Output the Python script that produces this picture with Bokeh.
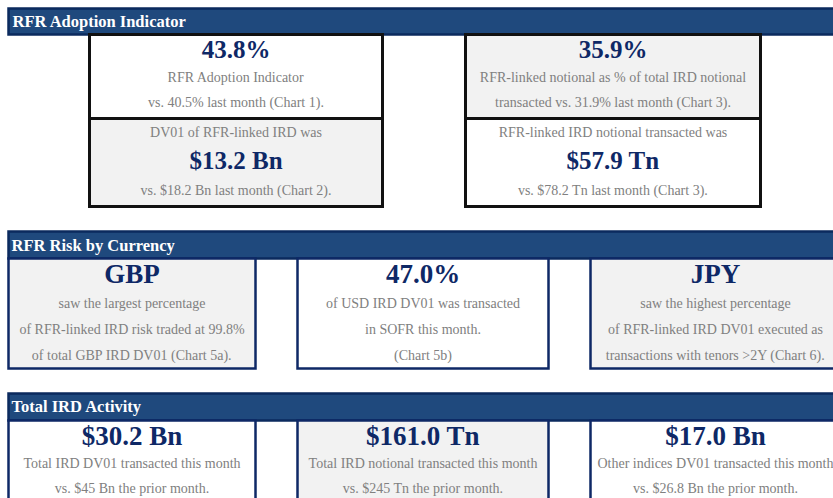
from bokeh.plotting import figure
from bokeh.models import Range1d
from bokeh.embed import file_html
from bokeh.resources import INLINE
from bokeh.core.properties import value

# ---------------- data (text content of the dashboard) ----------------
section_titles = ["RFR Adoption Indicator", "RFR Risk by Currency", "Total IRD Activity"]

adoption_values = ["43.8%", "35.9%"]
adoption_line1 = ["RFR Adoption Indicator", "RFR-linked notional as % of total IRD notional"]
adoption_line2 = ["vs. 40.5% last month (Chart 1).", "transacted vs. 31.9% last month (Chart 3)."]

volume_intro = ["DV01 of RFR-linked IRD was", "RFR-linked IRD notional transacted was"]
volume_values = ["$13.2 Bn", "$57.9 Tn"]
volume_prev = ["vs. $18.2 Bn last month (Chart 2).", "vs. $78.2 Tn last month (Chart 3)."]

currency_values = ["GBP", "47.0%", "JPY"]
currency_line1 = ["saw the largest percentage", "of USD IRD DV01 was transacted", "saw the highest percentage"]
currency_line2 = ["of RFR-linked IRD risk traded at 99.8%", "in SOFR this month.", "of RFR-linked IRD DV01 executed as"]
currency_line3 = ["of total GBP IRD DV01 (Chart 5a).", "(Chart 5b)", "transactions with tenors >2Y (Chart 6)."]

activity_values = ["$30.2 Bn", "$161.0 Tn", "$17.0 Bn"]
activity_line1 = ["Total IRD DV01 transacted this month", "Total IRD notional transacted this month",
                  "Other indices DV01 transacted this month"]
activity_line2 = ["vs. $45 Bn the prior month.", "vs. $245 Tn the prior month.", "vs. $26.8 Bn the prior month."]

# ---------------- layout / style ----------------
HEAD_FILL = "#1F497D"
HEAD_LINE = "#0B2A5E"
NAVY = "#0E2866"
GREY_TXT = "#808080"
GREY_FILL = "#F2F2F2"
FONT = value("Liberation Serif")

W, H = 833, 498
p = figure(width=W, height=H, x_range=Range1d(0, W), y_range=Range1d(H, 0),
           output_backend="svg", toolbar_location=None, x_axis_type=None, y_axis_type=None,
           min_border=0, min_border_left=0, min_border_right=0, min_border_top=0, min_border_bottom=0)
p.grid.visible = False
p.outline_line_color = None
p.background_fill_color = "white"
p.border_fill_color = "white"


def mid(baselines, size):
    # convert a desired alphabetic baseline to the "middle" anchor of the text box
    return [b - 0.34 * size for b in baselines]


SMALL = 14
BIG1 = 25
BIG2 = 27
HEAD = 16.5

big = dict(text_font=FONT, text_font_style="bold", text_color=NAVY,
           text_baseline="middle", text_align="center")
small = dict(text_font=FONT, text_font_size=f"{SMALL}px", text_color=GREY_TXT,
             text_baseline="middle", text_align="center")

# section headers
head_top = [8, 231, 393]
head_bot = [34, 258, 420]
p.quad(left=[8] * 3, right=[845] * 3, top=head_top, bottom=head_bot,
       fill_color=HEAD_FILL, line_color=HEAD_LINE, line_width=2.5, line_join="miter")
p.text(x=[12, 11, 11], y=mid([27, 251, 412], HEAD), text=section_titles, text_font=FONT,
       text_font_style="bold", text_font_size=f"{HEAD}px", text_color="white",
       text_baseline="middle", text_align="left")

# ---- section 1: two black boxes, each split in two ----
b1_left = [89, 465]
b1_right = [382, 760]
b1_cx = [(a + b) / 2 for a, b in zip(b1_left, b1_right)]
p.quad(left=b1_left, right=b1_right, top=[34, 34], bottom=[118, 118],
       fill_color=["white", GREY_FILL], line_color="#111111", line_width=3, line_join="miter")
p.quad(left=b1_left, right=b1_right, top=[118, 118], bottom=[206, 206],
       fill_color=[GREY_FILL, "white"], line_color="#111111", line_width=3, line_join="miter")

p.text(x=b1_cx, y=mid([57, 57], BIG1), text=adoption_values, text_font_size=f"{BIG1}px", **big)
p.text(x=b1_cx, y=mid([82, 82], SMALL), text=adoption_line1, **small)
p.text(x=b1_cx, y=mid([107, 107], SMALL), text=adoption_line2, **small)
p.text(x=b1_cx, y=mid([137, 137], SMALL), text=volume_intro, **small)
p.text(x=b1_cx, y=mid([168, 168], BIG1), text=volume_values, text_font_size=f"{BIG1}px", **big)
p.text(x=b1_cx, y=mid([195, 195], SMALL), text=volume_prev, **small)

# ---- sections 2 & 3: three navy boxes ----
b_left = [8, 297, 590]
b_right = [255, 548, 845]
b_cx = [131.5, 422.5, 715]

p.quad(left=b_left, right=b_right, top=[258] * 3, bottom=[368] * 3,
       fill_color=[GREY_FILL, "white", GREY_FILL], line_color=NAVY, line_width=2.5, line_join="miter")
p.text(x=b_cx, y=mid([283] * 3, BIG2), text=currency_values, text_font_size=f"{BIG2}px", **big)
p.text(x=b_cx, y=mid([308] * 3, SMALL), text=currency_line1, **small)
p.text(x=b_cx, y=mid([334] * 3, SMALL), text=currency_line2, **small)
p.text(x=b_cx, y=mid([360] * 3, SMALL), text=currency_line3, **small)

p.quad(left=b_left, right=b_right, top=[420] * 3, bottom=[520] * 3,
       fill_color=["white", GREY_FILL, "white"], line_color=NAVY, line_width=2.5, line_join="miter")
p.text(x=b_cx, y=mid([445] * 3, BIG2), text=activity_values, text_font_size=f"{BIG2}px", **big)
p.text(x=b_cx, y=mid([468] * 3, SMALL), text=activity_line1, **small)
p.text(x=b_cx, y=mid([493] * 3, SMALL), text=activity_line2, **small)

open("out.html", "w").write(file_html(p, INLINE))
